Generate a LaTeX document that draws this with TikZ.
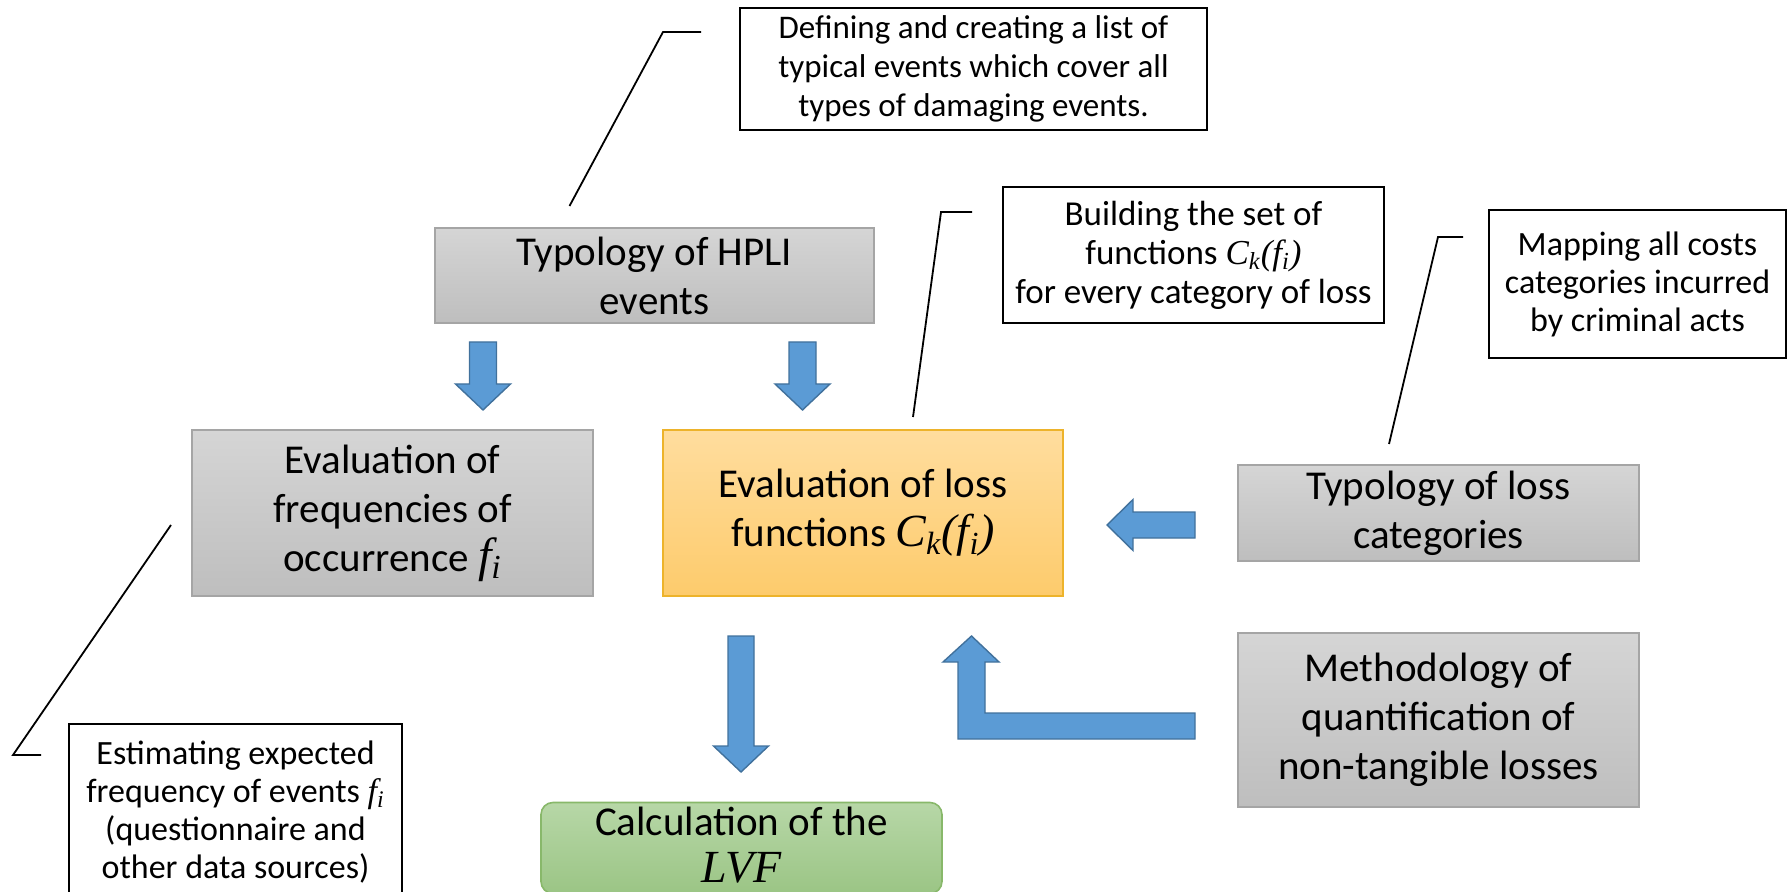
\documentclass[tikz,border=0pt]{standalone}
\usepackage{fontspec}
\setmainfont{Carlito}
\newfontfamily\tmsfont{Liberation Serif}
\newcommand{\mi}[1]{{\tmsfont\itshape #1}}
\newcommand{\Ckfi}{\mi{C\textsubscript{k}(f\textsubscript{i})}}
\newcommand{\fsubi}{\mi{f\textsubscript{i}}}
\definecolor{grayTop}{HTML}{D5D5D5}
\definecolor{grayBot}{HTML}{BEBEBE}
\definecolor{grayEdge}{HTML}{A5A5A5}
\definecolor{orTop}{HTML}{FFDD9E}
\definecolor{orBot}{HTML}{FDCB6C}
\definecolor{orEdge}{HTML}{EDB32B}
\definecolor{grTop}{HTML}{B7D7A7}
\definecolor{grBot}{HTML}{9BC585}
\definecolor{grEdge}{HTML}{88B86A}
\definecolor{arrBlue}{HTML}{5B9BD5}
\definecolor{arrEdge}{HTML}{41719C}
\begin{document}
\begin{tikzpicture}[x=0.5pt,y=-0.5pt,
  callout/.style={draw=black, line width=1pt, fill=white, align=center, inner sep=0pt,
    font=\fontsize{16.5}{19.5}\selectfont},
  graybox/.style={draw=grayEdge, line width=0.8pt, top color=grayTop, bottom color=grayBot,
    align=center, inner sep=0pt, font=\fontsize{20.5}{24.5}\selectfont},
  orangebox/.style={draw=orEdge, line width=0.8pt, top color=orTop, bottom color=orBot,
    align=center, inner sep=0pt, font=\fontsize{20.5}{24.5}\selectfont},
  greenbox/.style={draw=grEdge, line width=0.8pt, top color=grTop, bottom color=grBot,
    rounded corners=6pt, align=center, inner sep=0pt, font=\fontsize{20.5}{24.5}\selectfont},
  blockarrow/.style={fill=arrBlue, draw=arrEdge, line width=0.7pt, line join=miter},
  cline/.style={draw=black, line width=0.9pt}
]
\path[use as bounding box] (0,0) rectangle (1791,892);
\clip (0,0) rectangle (1791,892);

% callout boxes
\node[callout, minimum width=233.5pt, minimum height=61pt] (defbox) at (973.5,69)
  {Defining and creating a list of\\typical events which cover all\\types of damaging events.};
\node[callout, minimum width=190.5pt, minimum height=68pt, font=\fontsize{17.5}{19.5}\selectfont] (build) at (1193.5,255)
  {Building the set of\\functions \Ckfi\\for every category of loss};
\node[callout, minimum width=148.5pt, minimum height=74pt, font=\fontsize{17}{19}\selectfont] (mapbox) at (1637.5,284)
  {Mapping all costs\\categories incurred\\by criminal acts};
\node[callout, minimum width=166.5pt, minimum height=88pt, font=\fontsize{17}{19}\selectfont] (estim) at (235.5,812)
  {Estimating expected\\frequency of events \fsubi\\(questionnaire and\\other data sources)};

% main boxes
\node[graybox, minimum width=219.5pt, minimum height=47.5pt] (hpli) at (654.5,275.5)
  {Typology of HPLI\\events};
\node[graybox, minimum width=200.5pt, minimum height=83pt] (freq) at (392.5,513)
  {Evaluation of\\frequencies of\\occurrence {\fontsize{24}{24}\selectfont\fsubi}};
\node[orangebox, minimum width=200pt, minimum height=83pt] (lossfn) at (863,513)
  {Evaluation of loss\\functions {\fontsize{23}{24}\selectfont\Ckfi}};
\node[graybox, minimum width=200.5pt, minimum height=48pt] (losscat) at (1438.5,513)
  {Typology of loss\\categories};
\node[graybox, minimum width=200.5pt, minimum height=87pt] (method) at (1438.5,720)
  {Methodology of\\quantification of\\non-tangible losses};
\node[greenbox, minimum width=200.5pt, minimum height=45.5pt, text depth=3pt] (calc) at (741.5,848)
  {Calculation of the\\[-1pt]{\fontsize{23}{24}\selectfont\mi{LVF}}};

% block arrows
\draw[blockarrow] (469.5,342) -- (496.5,342) -- (496.5,384) -- (510.5,384) -- (483,410)
  -- (455.5,384) -- (469.5,384) -- cycle;
\draw[blockarrow] (789,342) -- (816,342) -- (816,384) -- (830,384) -- (802.5,410)
  -- (775,384) -- (789,384) -- cycle;
\draw[blockarrow] (728,636) -- (754,636) -- (754,746) -- (768.5,746) -- (741,772)
  -- (713.5,746) -- (728,746) -- cycle;
\draw[blockarrow] (1195,512) -- (1195,538) -- (1133,538) -- (1133,550.5) -- (1107,525)
  -- (1133,499.5) -- (1133,512) -- cycle;
\draw[blockarrow] (1195,713) -- (1195,739) -- (958,739) -- (958,662) -- (943,662)
  -- (971.5,636) -- (999,662) -- (985,662) -- (985,713) -- cycle;

% callout leader lines
\coordinate (c1a) at (701,32);
\coordinate (c1b) at (663,32);
\coordinate (c1c) at (569.5,206);
\draw[cline] (c1a) -- (c1b) -- (c1c);
\coordinate (c2a) at (972,212);
\coordinate (c2b) at (941,212);
\coordinate (c2c) at (913,417);
\draw[cline] (c2a) -- (c2b) -- (c2c);
\coordinate (c3a) at (1463,237);
\coordinate (c3b) at (1438,237);
\coordinate (c3c) at (1389,444);
\draw[cline] (c3a) -- (c3b) -- (c3c);
\coordinate (c4a) at (171,525);
\coordinate (c4b) at (13,755);
\coordinate (c4c) at (41,755);
\draw[cline] (c4a) -- (c4b) -- (c4c);
\end{tikzpicture}
\end{document}
